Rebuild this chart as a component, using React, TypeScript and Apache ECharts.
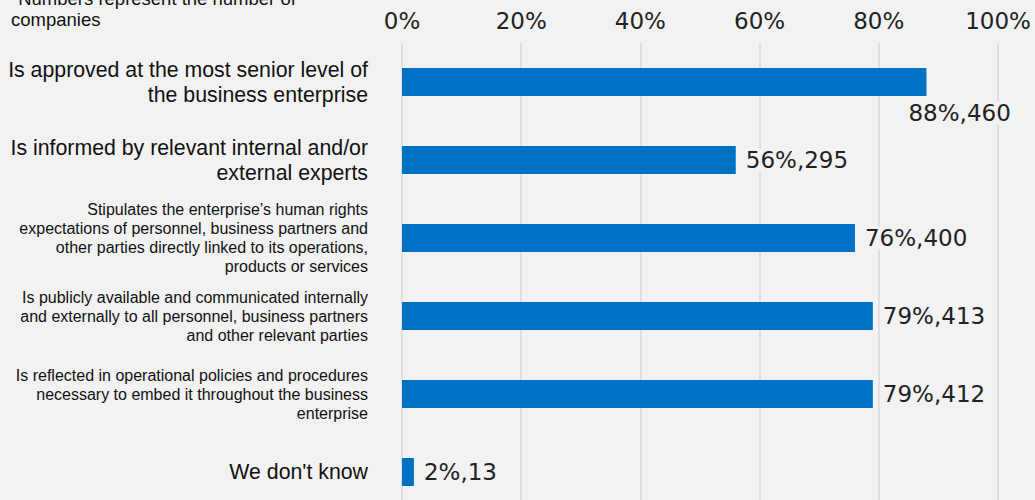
import React, { useEffect, useRef } from "react";
import * as echarts from "echarts";

const categories = [
  "Is approved at the most senior level of\nthe business enterprise",
  "Is informed by relevant internal and/or\nexternal experts",
  "Stipulates the enterprise’s human rights\nexpectations of personnel, business partners and\nother parties directly linked to its operations,\nproducts or services",
  "Is publicly available and communicated internally\nand externally to all personnel, business partners\nand other relevant parties",
  "Is reflected in operational policies and procedures\nnecessary to embed it throughout the business\nenterprise",
  "We don't know",
];
const labelSizes = ["big", "big", "small", "small", "small", "big"];
const percentValues = [88, 56, 76, 79, 79, 2];
const companyCounts = [460, 295, 400, 413, 412, 13];
const tickLabels = ["0%", "20%", "40%", "60%", "80%", "100%"];
const noteText = "*Numbers represent the number of\ncompanies";

export default function App() {
  const ref = useRef<HTMLDivElement>(null);
  useEffect(() => {
    if (!ref.current) return;
    const chart = echarts.init(ref.current, null, { renderer: "svg" });
    const bg = "#f2f2f2";
    const data = percentValues.map((v, i) => {
      const item: any = { value: v };
      if (i === 0) {
        item.label = { offset: [-28, 31] };
      }
      return item;
    });
    chart.setOption({
      animation: false,
      backgroundColor: bg,
      grid: { left: 402, width: 596, top: 43, bottom: 0, containLabel: false },
      xAxis: {
        type: "value",
        position: "top",
        min: 0,
        max: 100,
        interval: 20,
        axisLine: { show: false },
        axisTick: { show: false },
        splitLine: { show: true, lineStyle: { color: "#d9d9d9", width: 1.5 } },
        axisLabel: {
          margin: 11,
          fontFamily: "DejaVu Sans",
          fontSize: 23,
          color: "#222",
          formatter: (v: number) => tickLabels[Math.round(v / 20)],
        },
      },
      yAxis: {
        type: "category",
        inverse: true,
        data: categories,
        axisLine: { show: false },
        axisTick: { show: false },
        axisLabel: {
          margin: 34,
          align: "right",
          formatter: (v: string, i: number) =>
            v
              .split("\n")
              .map((l) => `{${labelSizes[i]}|${l}}`)
              .join("\n"),
          rich: {
            big: {
              fontFamily: "Liberation Sans, Arial, sans-serif",
              fontSize: 21.3,
              lineHeight: 25,
              color: "#111",
              align: "right",
            },
            small: {
              fontFamily: "Liberation Sans, Arial, sans-serif",
              fontSize: 16,
              lineHeight: 19,
              color: "#111",
              align: "right",
            },
          },
        },
      },
      series: [
        {
          type: "bar",
          data,
          barWidth: 28,
          itemStyle: { color: "#0072c6" },
          label: {
            show: true,
            position: "right",
            distance: 10,
            fontFamily: "DejaVu Sans",
            fontSize: 23,
            color: "#222",
            backgroundColor: bg,
            formatter: (p: any) => `${percentValues[p.dataIndex]}%,${companyCounts[p.dataIndex]}`,
          },
        },
      ],
      graphic: [
        {
          type: "text",
          left: 11,
          top: -12,
          style: {
            text: noteText,
            fontFamily: "Liberation Sans, Arial, sans-serif",
            fontSize: 18.5,
            lineHeight: 21,
            fill: "#111",
          },
        },
      ],
    });
    return () => chart.dispose();
  }, []);
  return (
    <div
      ref={ref}
      style={{ position: "fixed", left: 0, top: 0, width: 1035, height: 511 }}
    />
  );
}
